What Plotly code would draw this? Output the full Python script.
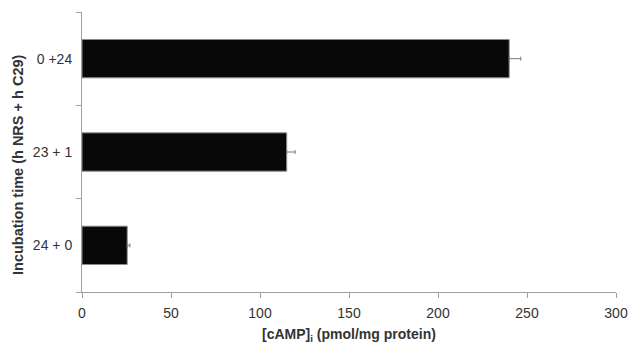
import plotly.graph_objects as go

categories = ["24 + 0", "23 + 1", "0 +24"]
values = [25.4, 115, 240]
errors = [1.5, 4.7, 6.5]
x_ticks = [0, 50, 100, 150, 200, 250, 300]

fig = go.Figure(go.Bar(
    y=categories, x=values, orientation="h",
    marker=dict(color="#080808", line=dict(color="#8a8a8a", width=1)),
    width=0.41,
    error_x=dict(type="data", symmetric=False, array=errors, arrayminus=[0]*len(errors),
                 color="#777777", thickness=1, width=2),
))

fig.update_layout(
    width=629, height=343,
    margin=dict(l=82, r=13, t=12, b=51),
    plot_bgcolor="white", paper_bgcolor="white",
    font=dict(family="Liberation Sans, Arial, sans-serif", color="#333333"),
    showlegend=False,
    annotations=[
        dict(text="<b>[cAMP]<sub>i</sub> (pmol/mg protein)</b>", xref="paper", yref="paper",
             x=0.5, y=0, yshift=-43, xanchor="center", yanchor="middle",
             showarrow=False, font=dict(size=14, color="#333333")),
        dict(text="<b>Incubation time (h NRS + h C29)</b>", xref="paper", yref="paper",
             x=0, y=0.5, xshift=-64, yshift=-13, xanchor="center", yanchor="middle",
             textangle=-90, showarrow=False, font=dict(size=14.5, color="#333333")),
    ],
)
fig.update_xaxes(
    range=[0, 300], tickvals=x_ticks, showgrid=False, zeroline=False, automargin=False,
    showline=True, linecolor="#a0a0a0", linewidth=1,
    ticks="outside", ticklen=5, tickcolor="#a0a0a0", ticklabelstandoff=3,
    tickfont=dict(size=14, color="#333333"),
)
fig.update_yaxes(
    type="category", range=[-0.5, 2.5], showgrid=False, zeroline=False, automargin=False,
    showline=True, linecolor="#a0a0a0", linewidth=1,
    ticks="outside", ticklen=5, tickcolor="#a0a0a0", tickson="boundaries",
    ticklabelstandoff=6,
    tickfont=dict(size=14, color="#333333"),
)

fig.write_html("out.html", config={"displayModeBar": False},
               post_script="document.body.style.margin='0';")
